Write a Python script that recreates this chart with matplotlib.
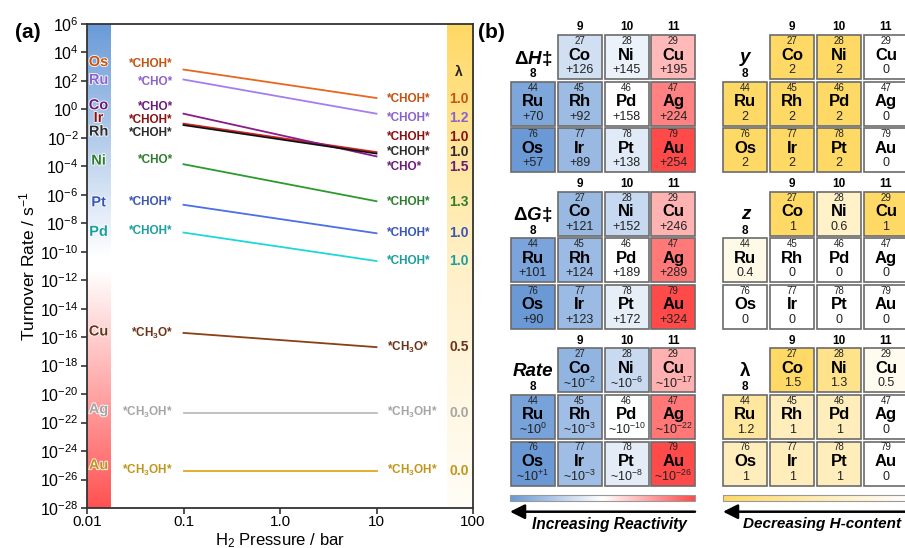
import numpy as np
import matplotlib
matplotlib.use("Agg")
import matplotlib.pyplot as plt
from matplotlib.colors import LinearSegmentedColormap, TwoSlopeNorm, PowerNorm
from matplotlib.patches import Rectangle
from matplotlib.ticker import FixedLocator, NullLocator, LogFormatterSciNotation
import matplotlib.patheffects as pe

plt.rcParams['font.family'] = ['Liberation Sans', 'DejaVu Sans']
plt.rcParams['mathtext.fontset'] = 'custom'
plt.rcParams['mathtext.rm'] = 'Liberation Sans'
plt.rcParams['mathtext.it'] = 'Liberation Sans:italic'
plt.rcParams['mathtext.bf'] = 'Liberation Sans:bold'
plt.rcParams['mathtext.bfit'] = 'Liberation Sans:italic:bold'

# ---- panel (a) data: log10 turnover rate at 0.1 bar and 10 bar H2
metals_a = ["Os", "Ru", "Co", "Ir", "Rh", "Ni", "Pt", "Pd", "Cu", "Ag", "Au"]
pressures = [0.1, 10]
log_rate_lo = [2.8, 2.1, -0.3, -1.0, -1.1, -3.85, -6.7, -8.65, -15.7, -21.3, -25.4]
log_rate_hi = [0.8, -0.3, -3.3, -3.0, -3.1, -6.45, -8.7, -10.65, -16.7, -21.3, -25.4]
species_lo = ["*CHOH*", "*CHO*", "*CHO*", "*CHOH*", "*CHOH*", "*CHO*", "*CHOH*",
              "*CHOH*", "*CH$_\\mathbf{3}$O*", "*CH$_\\mathbf{3}$OH*", "*CH$_\\mathbf{3}$OH*"]
species_hi = ["*CHOH*", "*CHOH*", "*CHO*", "*CHOH*", "*CHOH*", "*CHOH*", "*CHOH*",
              "*CHOH*", "*CH$_\\mathbf{3}$O*", "*CH$_\\mathbf{3}$OH*", "*CH$_\\mathbf{3}$OH*"]
lambda_a = ["1.0", "1.2", "1.5", "1.0", "1.0", "1.3", "1.0", "1.0", "0.5", "0.0", "0.0"]

# label placement (log10 units) and colours
metal_lab_y = [3.33, 2.07, 0.29, -0.6, -1.56, -3.6, -6.53, -8.6, -15.6, -21.07, -25.0]
lo_lab_y = [3.19, 1.95, 0.17, -0.74, -1.66, -3.55, -6.48, -8.52, -15.71, -21.31, -25.39]
hi_lab_y = [0.75, -0.62, -4.02, -1.96, -2.97, -6.53, -8.70, -10.63, -16.71, -21.31, -25.39]
line_colors = ["#e8661e", "#a57df0", "#8b1a8b", "#d42020", "#111111", "#2e9a2e",
               "#4a6fe8", "#1ed8d8", "#8b3f14", "#bcbcbc", "#e0a820"]
text_colors = ["#c5520f", "#8a62cc", "#6a1b7a", "#8b1010", "#2b2b2b", "#2e7d2e",
               "#3a55b5", "#1a9f9f", "#6b3317", "#a5a5a5", "#c0961a"]

# ---- panel (b) data
elements = ["Co", "Ni", "Cu", "Ru", "Rh", "Pd", "Ag", "Os", "Ir", "Pt", "Au"]
atomic_numbers = [27, 28, 29, 44, 45, 46, 47, 76, 77, 78, 79]
groups = [9, 10, 11, 8, 9, 10, 11, 8, 9, 10, 11]
periods = [4, 4, 4, 5, 5, 5, 5, 6, 6, 6, 6]
dH = [126, 145, 195, 70, 92, 158, 224, 57, 89, 138, 254]
dG = [121, 152, 246, 101, 124, 189, 289, 90, 123, 172, 324]
log_rate_tab = [-2, -6, -17, 0, -3, -10, -22, 1, -3, -8, -26]
y_tab = [2, 2, 0, 2, 2, 2, 0, 2, 2, 2, 0]
z_tab = [1, 0.6, 1, 0.4, 0, 0, 0, 0, 0, 0, 0]
lam_tab = [1.5, 1.3, 0.5, 1.2, 1, 1, 0, 1, 1, 1, 0]

fig = plt.figure(figsize=(9.05, 5.48), dpi=100)
W, H = 905, 548

# ================= panel (a)
ax = fig.add_axes([87 / W, 1 - 508 / H, (473 - 87) / W, (508 - 24) / H])
ax.set_xscale('log')
ax.set_yscale('log')
ax.set_xlim(0.01, 100)
ax.set_ylim(1e-28, 1e6)
ax.set_autoscale_on(False)

blue_red = LinearSegmentedColormap.from_list(
    "br", [(0, "#ff5252"), (0.49, "#ffffff"), (0.52, "#ffffff"), (1, "#6a9bd8")])
grad = np.linspace(0, 1, 256).reshape(-1, 1)
ax.imshow(grad, extent=[0, 0.062, 0, 1], transform=ax.transAxes, aspect='auto',
          cmap=blue_red, origin='lower', zorder=0)
yel = LinearSegmentedColormap.from_list("yl", ["#fffdf7", "#fff0c8", "#ffd966"])
ax.imshow(grad, extent=[0.932, 1, 0, 1], transform=ax.transAxes, aspect='auto',
          cmap=yel, origin='lower', zorder=0)

ylab = ax.get_yaxis_transform()
for i, m in enumerate(metals_a):
    ax.plot(pressures, [10 ** log_rate_lo[i], 10 ** log_rate_hi[i]],
            color=line_colors[i], lw=1.3, zorder=3 if m != "Ir" else 2)
    ax.text(0.030, 10 ** metal_lab_y[i], m, transform=ylab, ha='center', va='center',
            fontsize=10.5, fontweight='bold', color=text_colors[i], zorder=4,
            path_effects=[pe.withStroke(linewidth=1.2, foreground='white')])
    ax.text(0.223, 10 ** lo_lab_y[i], species_lo[i], transform=ylab, ha='right',
            va='center', fontsize=8.5, fontweight='bold', color=text_colors[i])
    ax.text(0.776, 10 ** hi_lab_y[i], species_hi[i], transform=ylab, ha='left',
            va='center', fontsize=8.5, fontweight='bold', color=text_colors[i])
    ax.text(0.964, 10 ** hi_lab_y[i], lambda_a[i], transform=ylab, ha='center',
            va='center', fontsize=10, fontweight='bold', color=text_colors[i])
ax.text(0.964, 10 ** 2.65, "λ", transform=ylab, ha='center', va='center',
        fontsize=10, fontweight='bold', color='#222222')

ax.yaxis.set_major_locator(FixedLocator(10.0 ** np.arange(-28, 7, 2)))
ax.yaxis.set_major_formatter(LogFormatterSciNotation())
ax.yaxis.set_minor_locator(NullLocator())
ax.xaxis.set_major_locator(FixedLocator([0.01, 0.1, 1, 10, 100]))
ax.set_xticklabels(["0.01", "0.1", "1.0", "10", "100"])
ax.xaxis.set_minor_locator(NullLocator())
ax.tick_params(direction='out', length=4, width=1.2, labelsize=11.5, color='#333333',
               pad=2)
ax.tick_params(axis='x', labelsize=11, pad=1)
for s in ax.spines.values():
    s.set_linewidth(1.3)
    s.set_color('#333333')
ax.set_ylabel("Turnover Rate / s$^{-1}$", fontsize=12.5, labelpad=2)
ax.set_xlabel("H$_2$ Pressure / bar", fontsize=12)
ax.xaxis.set_label_coords(0.5, -(531 - 508) / 484)

fig.text(15 / W, 1 - 33 / H, "(a)", fontsize=15, fontweight='bold', va='center')
fig.text(478 / W, 1 - 33 / H, "(b)", fontsize=15, fontweight='bold', va='center')

# ================= panel (b)
bx = fig.add_axes([480 / W, 0, (W - 480) / W, 1])
bx.set_xlim(480, W)
bx.set_ylim(H, 0)
bx.axis('off')

cmap_div = LinearSegmentedColormap.from_list("div", ["#6a99d6", "#ffffff", "#ff4a4a"])
cmap_yel = LinearSegmentedColormap.from_list("yel", ["#ffffff", "#ffd966"])
pitch_x, pitch_y, cell = 46.9, 46.6, 44.0


def draw_table(x0, y0, title, values, texts, cmap, norm):
    for g, lab in zip([9, 10, 11], ["9", "10", "11"]):
        bx.text(x0 + (g - 8) * pitch_x + cell / 2, y0 - 7.7, lab, ha='center',
                va='center', fontsize=8.5, fontweight='bold')
    bx.text(x0 + cell / 2, y0 + pitch_y - 7.7, "8", ha='center', va='center',
            fontsize=8.5, fontweight='bold')
    bx.text(x0 + cell / 2, y0 + 23, title, ha='center', va='center', fontsize=13.5,
            fontweight='bold', style='italic' if '$' not in title and title != "λ"
            else 'normal')
    for i, el in enumerate(elements):
        cx = x0 + (groups[i] - 8) * pitch_x
        cy = y0 + (periods[i] - 4) * pitch_y
        bx.add_patch(Rectangle((cx, cy), cell, cell, facecolor=cmap(norm(values[i])),
                               edgecolor='#6b6b6b', lw=1.2))
        bx.text(cx + cell / 2, cy + 6, str(atomic_numbers[i]), ha='center',
                va='center', fontsize=7, color='#222222')
        bx.text(cx + cell / 2, cy + 20, el, ha='center', va='center',
                fontsize=12, fontweight='bold')
        bx.text(cx + cell / 2, cy + 35, texts[i], ha='center', va='center',
                fontsize=9, color='#222222')


xl, xr = 510.7, 723.3
yt = [35, 191.7, 348.3]
draw_table(xl, yt[0], "Δ$\\mathbfit{H}$‡", dH, ["+%d" % v for v in dH], cmap_div,
           TwoSlopeNorm(vmin=min(dH), vcenter=dH[5], vmax=max(dH)))
draw_table(xl, yt[1], "Δ$\\mathbfit{G}$‡", dG, ["+%d" % v for v in dG], cmap_div,
           TwoSlopeNorm(vmin=min(dG), vcenter=dG[5], vmax=max(dG)))
rate_txt = ["~10$^{%s}$" % ("+1" if v == 1 else str(v).replace("-", "−"))
            for v in log_rate_tab]
draw_table(xl, yt[2], "Rate", log_rate_tab, rate_txt, cmap_div.reversed(),
           TwoSlopeNorm(vmin=min(log_rate_tab), vcenter=log_rate_tab[5],
                        vmax=max(log_rate_tab)))


def fmt(v):
    return "%g" % v


draw_table(xr, yt[0], "y", y_tab, [fmt(v) for v in y_tab], cmap_yel,
           PowerNorm(2, vmin=0, vmax=max(y_tab)))
draw_table(xr, yt[1], "z", z_tab, [fmt(v) for v in z_tab], cmap_yel,
           PowerNorm(2, vmin=0, vmax=max(z_tab)))
draw_table(xr, yt[2], "λ", lam_tab, [fmt(v) for v in lam_tab], cmap_yel,
           PowerNorm(2, vmin=0, vmax=max(lam_tab)))

# colour bars and arrows
bar = np.linspace(0, 1, 256).reshape(1, -1)
bx.imshow(bar, extent=[510, 695, 501, 495], cmap=cmap_div, aspect='auto')
bx.add_patch(Rectangle((510, 495), 185, 6, fill=False, edgecolor='#999999', lw=0.8))
bx.imshow(bar, extent=[723, 910, 501, 495], cmap=cmap_yel.reversed(), aspect='auto')
bx.add_patch(Rectangle((723, 495), 187, 6, fill=False, edgecolor='#999999', lw=0.8))
bx.set_xlim(480, W)
bx.set_ylim(H, 0)
for xa, xb in [(510, 695), (723, 910)]:
    bx.annotate("", xy=(xa, 511.7), xytext=(xb, 511.7),
                arrowprops=dict(arrowstyle="-|>", lw=1.8, color='black',
                                mutation_scale=22, shrinkA=0, shrinkB=0))
bx.text(609, 524, "Increasing Reactivity", ha='center', va='center', fontsize=11.2,
        fontweight='bold', style='italic')
bx.text(743, 524, "Decreasing H-content", ha='left', va='center', fontsize=11.0,
        fontweight='bold', style='italic')

fig.savefig("out.png", dpi=100)
